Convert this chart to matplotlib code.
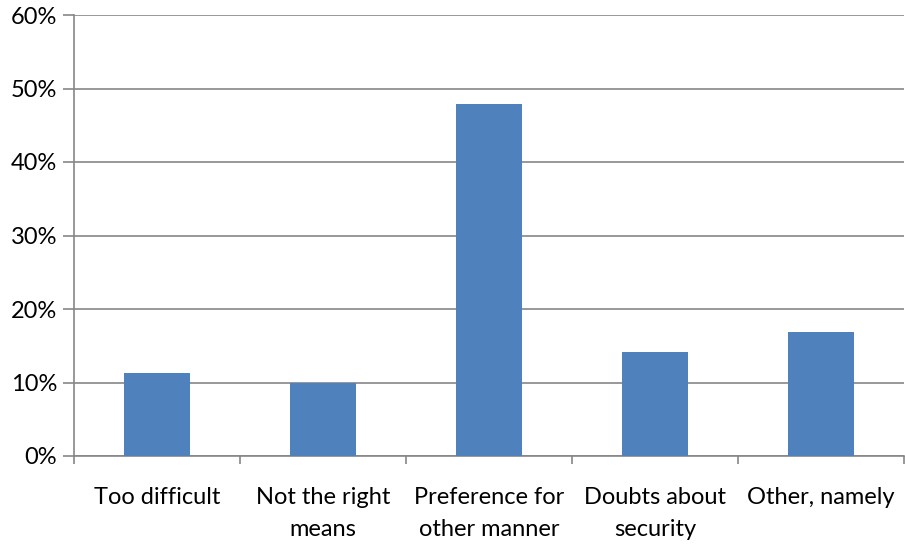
import matplotlib.pyplot as plt
from matplotlib.ticker import MultipleLocator, FuncFormatter

# reasons and share of respondents (%)
categories = ['Too difficult', 'Not the right\nmeans', 'Preference for\nother manner',
              'Doubts about\nsecurity', 'Other, namely']
values = [11.3, 9.9, 47.9, 14.1, 16.9]

plt.rcParams['font.family'] = ['Lato', 'DejaVu Sans']

fig = plt.figure(figsize=(9.05, 5.44), dpi=100)
ax = fig.add_axes([74 / 905, 88 / 544, 830 / 905, 441 / 544])

grey = '#868686'
x = range(len(categories))
ax.bar(x, values, width=0.4, color='#4F81BD', zorder=3)

ax.set_xlim(-0.5, len(categories) - 0.5)
ax.set_ylim(0, 60)
ax.yaxis.set_major_locator(MultipleLocator(10))
ax.yaxis.set_major_formatter(FuncFormatter(lambda v, p: f'{v:.0f}%'))
ax.grid(axis='y', color=grey, linewidth=1.2, zorder=0)

# category labels centered, ticks at category boundaries
ax.set_xticks(list(x))
ax.set_xticklabels(categories, fontsize=17, linespacing=1.65)
ax.tick_params(axis='x', length=0, pad=22)
ax.set_xticks([i - 0.5 for i in range(len(categories) + 1)], minor=True)
ax.tick_params(axis='x', which='minor', length=6, width=1.2, color=grey, direction='out')
ax.tick_params(axis='y', length=8, width=1.2, color=grey, labelsize=17, pad=4)

for s in ['top', 'right']:
    ax.spines[s].set_visible(False)
for s in ['left', 'bottom']:
    ax.spines[s].set_color(grey)
    ax.spines[s].set_linewidth(1.2)

fig.savefig('out.png', dpi=100)
